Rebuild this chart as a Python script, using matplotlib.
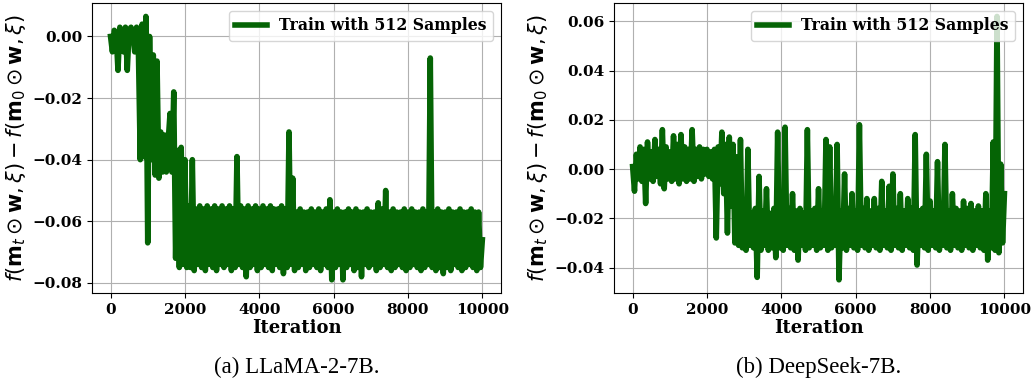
import numpy as np
import matplotlib
matplotlib.use("Agg")
import matplotlib.pyplot as plt

plt.rcParams['font.family'] = 'DejaVu Serif'
plt.rcParams['path.simplify'] = False   # keep the dense zig-zag intact

# one logged value every 50 iterations, 0 .. 10000
step = 50

llama_vals = [
    0.000, -0.005, 0.002, 0.001, -0.011, 0.003, 0.001, -0.005, 0.003, -0.011,
    0.002, 0.003, 0.001, -0.005, 0.003, -0.005, -0.040, 0.004, -0.039, 0.0065,
    -0.067, 0.000, -0.040, -0.006, -0.045, -0.008, -0.046, -0.031, -0.044, -0.032,
    -0.044, -0.034, -0.025, -0.044, -0.018, -0.072, -0.037, -0.075, -0.036, -0.074,
    -0.040, -0.075, -0.055, -0.075, -0.040, -0.076, -0.056, -0.074, -0.055, -0.075,
    -0.056, -0.076, -0.055, -0.074, -0.056, -0.075, -0.055, -0.076, -0.056, -0.074,
    -0.055, -0.075, -0.056, -0.074, -0.055, -0.076, -0.056, -0.075, -0.039, -0.074,
    -0.055, -0.075, -0.056, -0.078, -0.055, -0.075, -0.056, -0.074, -0.055, -0.076,
    -0.056, -0.075, -0.055, -0.074, -0.056, -0.075, -0.055, -0.076, -0.056, -0.074,
    -0.056, -0.075, -0.055, -0.077, -0.056, -0.075, -0.031, -0.074, -0.046, -0.076,
    -0.057, -0.075, -0.056, -0.074, -0.057, -0.076, -0.057, -0.075, -0.056, -0.074,
    -0.057, -0.075, -0.056, -0.076, -0.057, -0.074, -0.056, -0.075, -0.053, -0.079,
    -0.057, -0.075, -0.056, -0.074, -0.057, -0.079, -0.057, -0.075, -0.056, -0.074,
    -0.057, -0.076, -0.056, -0.075, -0.057, -0.078, -0.057, -0.074, -0.056, -0.075,
    -0.057, -0.074, -0.057, -0.076, -0.054, -0.075, -0.056, -0.074, -0.050, -0.075,
    -0.057, -0.076, -0.056, -0.075, -0.057, -0.074, -0.057, -0.075, -0.056, -0.076,
    -0.057, -0.075, -0.056, -0.074, -0.057, -0.075, -0.057, -0.076, -0.056, -0.075,
    -0.057, -0.074, -0.007, -0.075, -0.057, -0.076, -0.056, -0.075, -0.057, -0.077,
    -0.057, -0.075, -0.056, -0.076, -0.057, -0.074, -0.057, -0.075, -0.056, -0.076,
    -0.057, -0.075, -0.057, -0.074, -0.056, -0.075, -0.057, -0.076, -0.057, -0.075,
    -0.066,
]

deepseek_vals = [
    0.001, -0.009, 0.006, -0.004, 0.009, -0.005, 0.008, -0.014, 0.011, -0.004,
    0.007, -0.005, 0.012, -0.003, 0.008, -0.006, 0.016, -0.008, 0.009, -0.004,
    0.007, -0.005, 0.0135, -0.004, 0.010, -0.006, 0.014, -0.004, 0.009, -0.005,
    0.008, -0.004, 0.016, -0.005, 0.008, -0.003, 0.009, -0.004, 0.008, -0.002,
    0.008, -0.003, 0.007, -0.004, 0.008, -0.028, 0.009, -0.006, 0.015, -0.010,
    0.010, -0.026, 0.013, -0.015, 0.010, -0.030, 0.005, -0.031, 0.012, -0.032,
    -0.017, -0.033, 0.008, -0.031, -0.018, -0.032, -0.016, -0.044, -0.003, -0.033,
    -0.017, -0.031, -0.008, -0.033, -0.018, -0.032, -0.016, -0.036, 0.015, -0.032,
    -0.017, -0.033, 0.017, -0.031, -0.016, -0.032, -0.010, -0.033, -0.017, -0.037,
    -0.016, -0.031, -0.018, -0.033, 0.016, -0.032, -0.017, -0.031, -0.016, -0.033,
    -0.008, -0.032, -0.017, -0.031, 0.012, -0.033, 0.009, -0.032, -0.016, -0.031,
    0.010, -0.045, -0.017, -0.032, -0.002, -0.033, -0.016, -0.031, -0.010, -0.032,
    -0.017, -0.033, 0.018, -0.031, -0.016, -0.032, -0.012, -0.033, -0.017, -0.031,
    -0.012, -0.032, -0.016, -0.033, -0.005, -0.031, -0.017, -0.032, -0.007, -0.033,
    -0.002, -0.031, -0.016, -0.032, -0.010, -0.033, -0.017, -0.031, -0.012, -0.032,
    -0.016, -0.033, 0.014, -0.039, -0.017, -0.031, -0.016, -0.032, 0.006, -0.033,
    -0.013, -0.031, -0.017, -0.032, 0.003, -0.033, -0.016, -0.031, 0.010, -0.032,
    -0.017, -0.033, -0.010, -0.031, -0.016, -0.032, -0.017, -0.033, -0.013, -0.031,
    -0.016, -0.032, -0.014, -0.033, -0.017, -0.031, -0.015, -0.032, -0.017, -0.033,
    -0.010, -0.037, -0.017, -0.032, 0.011, -0.033, 0.062, -0.034, 0.002, -0.030,
    -0.010,
]

panels = [
    (llama_vals, "(a) LLaMA-2-7B."),
    (deepseek_vals, "(b) DeepSeek-7B."),
]
legend_label = "Train with 512 Samples"
ylabel = r"$f(\mathbf{m}_t \odot \mathbf{w}, \xi) - f(\mathbf{m}_0 \odot \mathbf{w}, \xi)$"

fig = plt.figure(figsize=(10.32, 3.8), dpi=100)
lefts = [0.0891, 0.595]
axes = []

for (vals, caption), left in zip(panels, lefts):
    ax = fig.add_axes([left, 0.229, 0.3963, 0.7624])
    iters = np.arange(len(vals)) * step
    ax.plot(iters, vals, color='#056405', linewidth=4, label=legend_label)
    ax.grid(True)
    ax.set_xticks([0, 2000, 4000, 6000, 8000, 10000])
    ax.tick_params(labelsize=11)
    ax.set_xlabel("Iteration", fontsize=13, fontweight='bold', labelpad=2)
    ax.set_ylabel(ylabel, fontsize=15, labelpad=3)
    ax.legend(loc='upper right', prop={'size': 11.3, 'weight': 'bold'})
    fig.text(left + 0.3963 / 2, 0.032, caption, ha='center', va='center',
             family='Liberation Serif', fontsize=16.5)
    axes.append(ax)

# bold tick labels (set after a first draw so the auto y ticks exist)
fig.canvas.draw()
for ax in axes:
    for lab in ax.get_xticklabels() + ax.get_yticklabels():
        lab.set_fontweight('bold')

fig.savefig("out.png", dpi=100)
